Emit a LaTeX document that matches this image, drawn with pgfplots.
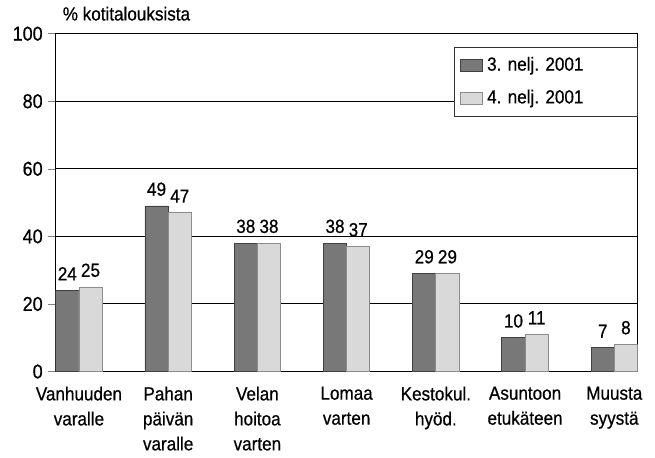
\documentclass[border=0pt]{standalone}
\usepackage{fontspec}
\setmainfont{Liberation Sans}[FakeStretch=0.9, FakeBold=0.6]
\usepackage{pgfplots}
\usepackage{pgfplotstable}
\pgfplotsset{compat=1.18}
\definecolor{darkbar}{gray}{0.47}
\definecolor{lightbar}{gray}{0.85}
\pgfplotstableread{
x a b
0 24 25
1 49 47
2 38 38
3 38 37
4 29 29
5 10 11
6 7 8
}\data
\begin{document}
\begin{tikzpicture}
\begin{axis}[
  scale only axis, width=291pt, height=169pt,
  xmin=-0.26, xmax=6.26, ymin=0, ymax=100,
  ytick={0,20,...,100},
  xtick={0,...,6},
  xticklabels={{Vanhuuden\\varalle},{Pahan\\päivän\\varalle},{Velan\\hoitoa\\varten},{Lomaa\\varten},{Kestokul.\\hyöd.},{Asuntoon\\etukäteen},{Muusta\\syystä}},
  xticklabel style={align=center, font=\fontsize{9.5}{12.5}\selectfont},
  yticklabel style={font=\fontsize{10}{11}\selectfont, xshift=1pt},
  /pgf/number format/assume math mode=true,
  major x tick style={draw=none},
  ymajorgrids, grid style={black, line width=0.5pt},
  axis line style={black, line width=0.5pt},
  tick align=outside, ytick pos=left, major tick length=4pt,
  ybar=0pt, bar width=0.26,
  nodes near coords,
  every node near coord/.append style={font=\fontsize{9.5}{11}\selectfont, yshift=1.5pt},
  title={\% kotitalouksista},
  title style={at={(0,1)}, anchor=south west, xshift=0pt, font=\fontsize{9.5}{11}\selectfont, yshift=-3pt},
  legend style={at={(1,0.962)}, anchor=north east, draw=black!80, fill=white,
    font=\fontsize{9.5}{11}\selectfont, row sep=4pt, inner xsep=3pt, inner ysep=3pt},
  legend cell align=left,
  legend image code/.code={\draw[#1] (0pt,-3pt) rectangle (11pt,3pt);},
]
\addplot[fill=darkbar, draw=black!75, line width=0.4pt] table[x=x,y=a]{\data};
\addplot[fill=lightbar, draw=black!45, line width=0.4pt] table[x=x,y=b]{\data};
\legend{\makebox[70pt][l]{3. nelj. 2001},\makebox[70pt][l]{4. nelj. 2001}}
\end{axis}
\path (current axis.outer north east) ++(3pt,0);
\path (current axis.outer west) ++(-3pt,0);
\end{tikzpicture}
\end{document}
